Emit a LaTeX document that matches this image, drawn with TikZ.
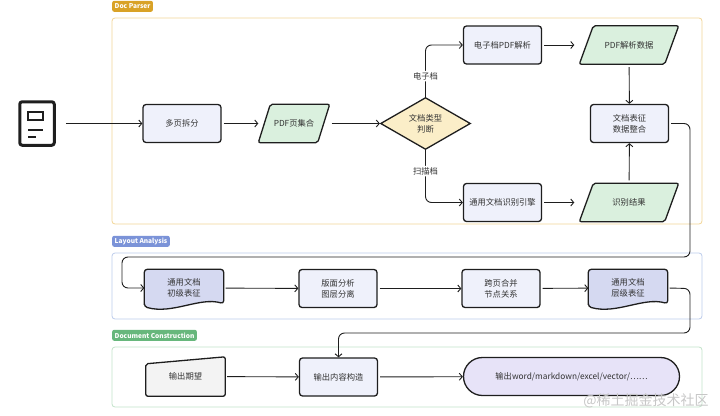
\documentclass[tikz,border=0pt]{standalone}
\usepackage{fontspec}
\setmainfont{Noto Sans CJK SC}
\usetikzlibrary{shapes.geometric,arrows.meta,calc,backgrounds}

\definecolor{parsecol}{HTML}{D9A227}
\definecolor{parseline}{HTML}{F2D596}
\definecolor{layoutcol}{HTML}{7B93D8}
\definecolor{layoutline}{HTML}{BCCBEB}
\definecolor{buildcol}{HTML}{67B77C}
\definecolor{buildline}{HTML}{C2E2C9}
\definecolor{boxfill}{HTML}{EFF1FB}
\definecolor{datafill}{HTML}{DAF0DE}
\definecolor{judgefill}{HTML}{FBEEC8}
\definecolor{docfill}{HTML}{D5D9F1}
\definecolor{wantfill}{HTML}{F3F3F3}
\definecolor{outfill}{HTML}{E7E3F8}
\definecolor{ink}{HTML}{1E1E1E}
\definecolor{txt}{HTML}{333333}

\tikzset{
  every node/.style={font=\fontsize{8.3}{11}\selectfont, text=txt},
  proc/.style={rectangle, draw=ink, line width=1.3pt, rounded corners=3pt,
    fill=boxfill, minimum width=78pt, minimum height=38pt, align=center},
  judge/.style={diamond, draw=ink, line width=1.3pt, fill=judgefill,
    minimum width=90pt, minimum height=48pt, inner sep=0pt, align=center},
  bare/.style={rectangle, minimum width=#1, minimum height=38pt, align=center},
  edge line/.style={draw=ink, line width=1.3pt},
  flow/.style={draw=ink, line width=0.9pt, -{Straight Barb[length=3pt,width=7pt]}},
  tag/.style={fill=#1, rounded corners=2pt, text=white, anchor=south west,
    font=\fontsize{6.6}{7}\selectfont\bfseries, inner xsep=2.5pt, inner ysep=0pt,
    minimum height=11pt}
}

% data shape (parallelogram) round a named node, #2 = slant
\newcommand\dataslant[2]{%
  \draw[edge line, fill=datafill, rounded corners=2pt]
    (#1.south west) -- ($(#1.north west)+(#2,0)$) -- (#1.north east)
    -- ($(#1.south east)-(#2,0)$) -- cycle;}

% document shape with a wavy bottom, drawn round a named node
\newcommand\docwave[1]{%
  \draw[edge line, fill=docfill, rounded corners=3pt]
    (#1.south west) -- (#1.north west) -- (#1.north east)
    -- ($(#1.south east)+(0,-3)$)
    .. controls ($(#1.south east)+(-24,-10)$) and ($(#1.south west)+(28,8)$) .. (#1.south west)
    -- cycle;}

\begin{document}
\begin{tikzpicture}[x=1pt,y=-1pt]
  \useasboundingbox (0,0) rectangle (720,415);

  % stage frames
  \foreach \top/\bot/\lc/\tc/\name in {18/224/parseline/parsecol/Doc Parser,
                                      253/319/layoutline/layoutcol/Layout Analysis,
                                      347/407/buildline/buildcol/Document Construction}
  {
    \draw[draw=\lc, line width=0.8pt, rounded corners=3pt] (112,\top) rectangle (702,\bot);
    \node[tag=\tc] at (112,\top-6) {\name};
  }

  % source file
  \node[draw=ink, line width=3pt, rounded corners=2.5pt, minimum width=34.5pt,
        minimum height=43.5pt, inner sep=0pt] (src) at (37,123.5) {};
  \draw[ink, line width=2.5pt] ($(src.center)+(-8.8,-11.3)$) rectangle ($(src.center)+(5.8,-3.7)$);
  \draw[ink, line width=2.5pt] ($(src.center)+(-8.8,6.5)$) -- ($(src.center)+(6,6.5)$);
  \draw[ink, line width=2.5pt] ($(src.center)+(-8.8,13.5)$) -- ($(src.center)+(-1.5,13.5)$);

  % Doc Parser
  \node[proc] (split) at (182,123.5) {多页拆分};
  \node[bare=71pt] (pages) at (294,123.5) {PDF页集合};
  \node[judge] (type) at (425.5,123.5) {文档类型\\判断};
  \node[proc] (digital) at (502.5,45) {电子档PDF解析};
  \node[bare=99pt] (pdfdata) at (629,45) {PDF解析数据};
  \node[proc] (fuse) at (629.5,123.5) {文档表征\\数据整合};
  \node[proc] (ocr) at (502.5,202.5) {通用文档识别引擎};
  \node[bare=99pt] (ocrres) at (629,202.5) {识别结果};

  % Layout Analysis
  \node[bare=79pt, minimum height=37pt] (init) at (184,288) {通用文档\\初级表征};
  \node[proc] (layer) at (338,288.5) {版面分析\\图层分离};
  \node[proc] (merge) at (501,288.5) {跨页合并\\节点关系};
  \node[bare=79pt, minimum height=37pt] (tree) at (628,288) {通用文档\\层级表征};

  % Document Construction
  \node[bare=79pt, minimum height=39pt] (want) at (185.5,376.5) {输出期望};
  \node[proc] (build) at (338.5,377) {输出内容构造};
  \node[rectangle, edge line, rounded corners=19pt, fill=outfill,
        minimum width=216pt, minimum height=38pt] (out) at (571.5,376.5)
        {输出word/markdown/excel/vector/……};

  \begin{pgfonlayer}{background}
    \dataslant{pages}{12}
    \dataslant{pdfdata}{14}
    \dataslant{ocrres}{14}
    \docwave{init}
    \docwave{tree}
    \draw[edge line, fill=wantfill, rounded corners=2pt]
      (want.south west) -- ($(want.north west)+(0,7)$) -- (want.north east)
      -- (want.south east) -- cycle;
  \end{pgfonlayer}

  % connectors
  \draw[flow, shorten <=10pt] (src) -- (split);
  \draw[flow, shorten <=2pt] (split) -- (pages);
  \draw[flow, shorten <=2pt] (pages) -- (type);
  \draw[flow, rounded corners=6pt] (type.north) |- node[pos=0.2, fill=white, inner sep=1.5pt] {电子档} (digital.west);
  \draw[flow, rounded corners=6pt] (type.south) |- node[pos=0.2, fill=white, inner sep=1.5pt] {扫描档} (ocr.west);
  \draw[flow, shorten <=2pt, shorten >=5pt] (digital) -- (pdfdata);
  \draw[flow, shorten <=3pt] (pdfdata) -- (fuse);
  \draw[flow, shorten <=2pt, shorten >=5pt] (ocr) -- (ocrres);
  \draw[flow, shorten <=3pt] (ocrres) -- (fuse);
  \draw[flow, rounded corners=6pt, shorten <=2pt] (fuse.east) -- (690,123.5) -- (690,257) -- (122,257) |- (init.west);
  \draw[flow, shorten <=2pt] (init) -- (layer);
  \draw[flow, shorten <=2pt] (layer) -- (merge);
  \draw[flow, shorten <=2pt] (merge) -- (tree);
  \draw[flow, rounded corners=6pt, shorten <=2pt] (tree.east) -- (690,288.5) -- (690,333) -- (338.5,333) -- (build.north);
  \draw[flow, shorten <=2pt] (want) -- (build);
  \draw[flow, shorten <=2pt] (build) -- (out);

  \node[text=black!22, font=\fontsize{14}{14}\selectfont] (mark) at (646,401) {@稀土掘金技术社区};
\end{tikzpicture}
\end{document}
